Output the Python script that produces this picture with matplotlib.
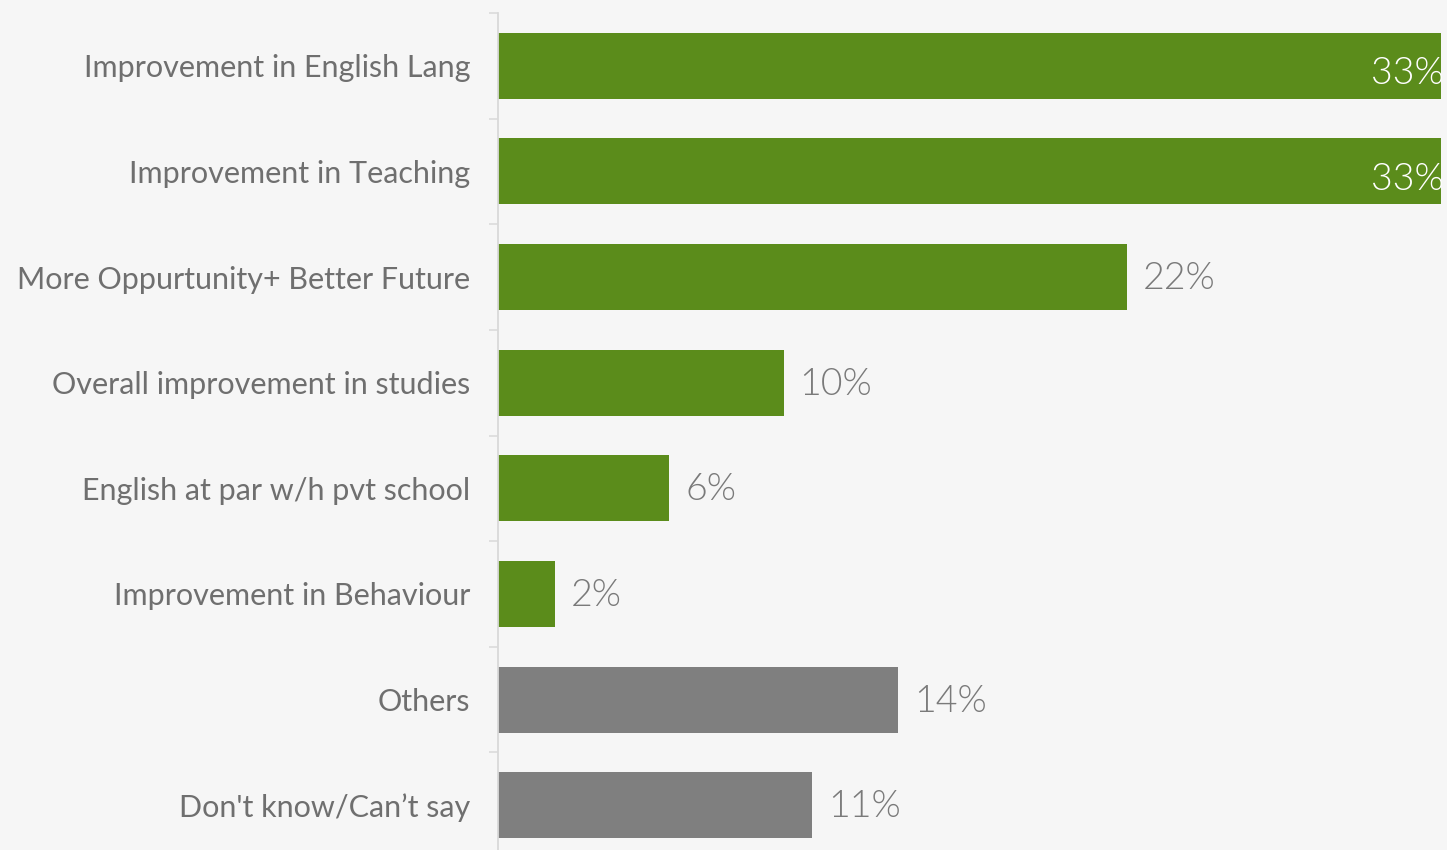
import matplotlib
matplotlib.use("Agg")
import matplotlib.pyplot as plt
import numpy as np

categories = ["Improvement in English Lang", "Improvement in Teaching",
              "More Oppurtunity+ Better Future", "Overall improvement in studies",
              "English at par w/h pvt school", "Improvement in Behaviour",
              "Others", "Don't know/Can\u2019t say"]
values = [33, 33, 22, 10, 6, 2, 14, 11]
labels = ["33%", "33%", "22%", "10%", "6%", "2%", "14%", "11%"]
colors = ["#5b8c1b"] * 6 + ["#7f7f7f"] * 2

W, H = 1447, 850
fig = plt.figure(figsize=(W / 100, H / 100), dpi=100)
bg = "#f6f6f6"
fig.patch.set_facecolor(bg)
ax = fig.add_axes([498 / W, -8 / H, 1 - 498 / W, 845 / H])
ax.set_facecolor(bg)

y = np.arange(len(categories))
ax.barh(y, values, height=0.625, color=colors, left=0)
ax.set_xlim(0, 949 / 28.58)
ax.set_ylim(len(categories) - 0.5, -0.5)

for i, (v, lab) in enumerate(zip(values, labels)):
    if v >= 30:
        ax.text(v + 0.08, i + 0.08, lab, ha="right", va="center", color="white",
                fontsize=27, family="Lato", fontweight=300, clip_on=False)
    else:
        ax.text(v + 0.55, i + 0.02, lab, ha="left", va="center", color="#7a7a7a",
                fontsize=27, family="Lato", fontweight=300, clip_on=False)

ax.set_yticks(y)
ax.set_yticklabels(categories, family="Lato", fontsize=22, color="#6f6f6f")
ax.tick_params(axis="y", which="major", length=0, pad=20)
ax.set_yticks(np.arange(-0.5, len(categories), 1), minor=True)
ax.tick_params(axis="y", which="minor", length=6.5, width=1.1, color="#d9d9d9")
ax.set_xticks([])
for s in ["top", "right", "bottom"]:
    ax.spines[s].set_visible(False)
ax.spines["left"].set_color("#d9d9d9")
ax.spines["left"].set_linewidth(1.3)

fig.savefig("out.png", dpi=100, facecolor=bg)
